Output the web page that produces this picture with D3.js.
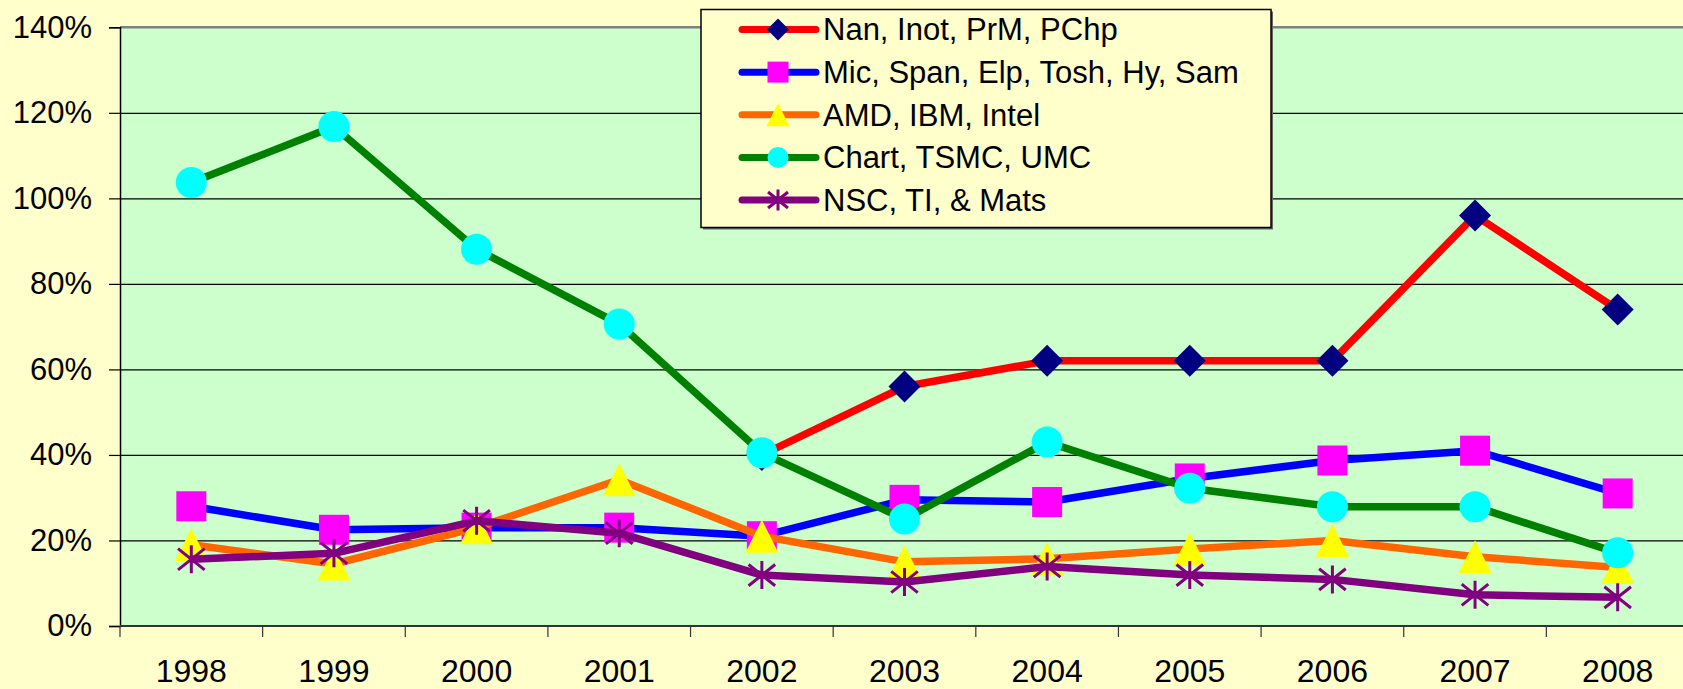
<!DOCTYPE html>
<html>
<head>
<meta charset="utf-8">
<script src="https://cdn.jsdelivr.net/npm/d3@7"></script>
<style>
  html, body { margin: 0; padding: 0; background: #ffffcc; }
  svg { display: block; font-family: Arial, "Liberation Sans", sans-serif; }
</style>
</head>
<body>
<svg class="canvas" width="1683" height="689"></svg>
<script>
const years = ["1998", "1999", "2000", "2001", "2002", "2003", "2004", "2005", "2006", "2007", "2008"];
const yTicks = [0, 0.2, 0.4, 0.6, 0.8, 1.0, 1.2, 1.4];

// percent values
const nanInot = [null, null, null, null, 40, 56, 62, 62, 62, 96, 74];
const micSpan = [28, 22.5, 23, 23, 21, 29.5, 29, 34.5, 38.7, 41, 31];
const amdIbm = [19, 14.5, 23, 34.2, 21, 15, 15.7, 18, 20, 16.2, 13.7];
const chartTsmc = [103.7, 116.8, 88.1, 70.6, 40.5, 25, 43, 32.2, 27.9, 27.9, 17.1];
const nscTi = [15.6, 17, 24.6, 21.7, 11.9, 10.3, 13.9, 11.9, 10.9, 7.3, 6.7];

const seriesNames = [
  "Nan, Inot, PrM, PChp",
  "Mic, Span, Elp, Tosh, Hy, Sam",
  "AMD, IBM, Intel",
  "Chart, TSMC, UMC",
  "NSC, TI, & Mats"
];

const series = [
  { name: seriesNames[0], values: nanInot, line: "#ff0000", fill: "#000080", marker: "diamond" },
  { name: seriesNames[1], values: micSpan, line: "#0000ff", fill: "#ff00ff", marker: "square" },
  { name: seriesNames[2], values: amdIbm, line: "#ff6600", fill: "#ffff00", marker: "triangle" },
  { name: seriesNames[3], values: chartTsmc, line: "#008000", fill: "#00ffff", marker: "circle" },
  { name: seriesNames[4], values: nscTi, line: "#800080", fill: "#800080", marker: "star" }
];

const svg = d3.select(".canvas");

let plotLeft = 120, plotRight = 1689, plotTop = 27.3, plotBottom = 626;

let xScale = d3.scaleBand().domain(years).range([plotLeft, plotRight]).padding(0);
let yScale = d3.scaleLinear().domain([0, 1.4]).range([plotBottom, plotTop]);
let cx = (year) => xScale(year) + xScale.bandwidth() / 2;

// plot area
svg.append("rect")
  .attr("x", plotLeft).attr("y", plotTop)
  .attr("width", plotRight - plotLeft).attr("height", plotBottom - plotTop)
  .attr("fill", "#ccffcc");

// grid lines
svg.append("g")
  .attr("transform", `translate(${plotLeft},0)`)
  .call(d3.axisLeft(yScale).tickValues(yTicks.slice(1, -1)).tickSize(-(plotRight - plotLeft)).tickFormat(""))
  .call((g) => g.select(".domain").remove())
  .call((g) => g.selectAll("line").attr("stroke", "#000").attr("stroke-width", 1.2));

svg.append("line")
  .attr("x1", plotLeft).attr("x2", plotRight)
  .attr("y1", yScale(1.4)).attr("y2", yScale(1.4))
  .attr("stroke", "#808080").attr("stroke-width", 2.5);

// y axis
svg.append("g")
  .attr("transform", `translate(${plotLeft},0)`)
  .call(d3.axisLeft(yScale).tickValues(yTicks).tickSize(11).tickPadding(17).tickFormat(d3.format(".0%")))
  .call((g) => g.select(".domain").attr("stroke", "#000").attr("stroke-width", 1.5))
  .call((g) => g.selectAll("line").attr("stroke", "#000").attr("stroke-width", 1.2))
  .call((g) => g.selectAll("text").style("font-size", "31px").attr("fill", "#000"));

// x axis labels
svg.append("g")
  .attr("transform", `translate(0,${plotBottom})`)
  .call(d3.axisBottom(xScale).tickSize(0).tickPadding(33))
  .call((g) => g.select(".domain").remove())
  .call((g) => g.selectAll("text").style("font-size", "32px").attr("fill", "#000"));

// x axis line and category boundary ticks
svg.append("line")
  .attr("x1", plotLeft).attr("x2", plotRight)
  .attr("y1", plotBottom).attr("y2", plotBottom)
  .attr("stroke", "#333").attr("stroke-width", 2);

svg.append("g")
  .selectAll("line")
  .data(years)
  .join("line")
  .attr("x1", (d) => xScale(d)).attr("x2", (d) => xScale(d))
  .attr("y1", plotBottom).attr("y2", plotBottom + 11)
  .attr("stroke", "#333").attr("stroke-width", 1.2);

let markerPath = (type, s) => {
  let h = s / 2;
  if (type === "diamond") return `M0,${-h}L${h},0L0,${h}L${-h},0Z`;
  if (type === "square") return `M${-h},${-h}H${h}V${h}H${-h}Z`;
  if (type === "triangle") return `M0,${-h}L${h},${h}L${-h},${h}Z`;
  if (type === "circle") return d3.symbol(d3.symbolCircle, Math.PI * h * h)();
  // star: vertical line plus an X
  let d = h * 0.95;
  return `M0,${-h}V${h}M${-d},${-d * 0.8}L${d},${d * 0.8}M${-d},${d * 0.8}L${d},${-d * 0.8}`;
};

let drawMarker = (sel, s, size) => {
  sel.append("path")
    .attr("d", markerPath(s.marker, size))
    .attr("fill", s.marker === "star" ? "none" : s.fill)
    .attr("stroke", s.marker === "star" ? s.fill : "none")
    .attr("stroke-width", s.marker === "star" ? 3 : 0);
};

let line = d3.line()
  .defined((d) => d.v !== null)
  .x((d) => cx(d.year))
  .y((d) => yScale(d.v / 100));

series.forEach((s) => {
  let pts = years.map((year, i) => ({ year: year, v: s.values[i] }));
  let g = svg.append("g");
  g.append("path")
    .datum(pts)
    .attr("d", line)
    .attr("fill", "none")
    .attr("stroke", s.line)
    .attr("stroke-width", 7.5)
    .attr("stroke-linejoin", "round");
  let size = { diamond: 32, square: 30, triangle: 33, circle: 31, star: 28 }[s.marker];
  g.selectAll("g.pt")
    .data(pts.filter((d) => d.v !== null))
    .join("g")
    .attr("class", "pt")
    .attr("transform", (d) => `translate(${cx(d.year)},${yScale(d.v / 100)})`)
    .each(function () {
      drawMarker(d3.select(this), s, size);
    });
});

// legend
let lx = 701, ly = 9.5, lw = 570, lh = 218;
svg.append("rect")
  .attr("x", lx + 2).attr("y", ly + 2)
  .attr("width", lw).attr("height", lh)
  .attr("fill", "#666");
svg.append("rect")
  .attr("x", lx).attr("y", ly)
  .attr("width", lw).attr("height", lh)
  .attr("fill", "#ffffcc")
  .attr("stroke", "#000").attr("stroke-width", 1.5);

let legendY = d3.scalePoint().domain(seriesNames).range([29.5, 200]);

series.forEach((s) => {
  let g = svg.append("g").attr("transform", `translate(0,${legendY(s.name)})`);
  g.append("line")
    .attr("x1", 742).attr("x2", 816)
    .attr("stroke", s.line).attr("stroke-width", 7)
    .attr("stroke-linecap", "round");
  let mg = g.append("g").attr("transform", "translate(778,0)");
  let size = { diamond: 22, square: 21, triangle: 23, circle: 21, star: 21 }[s.marker];
  drawMarker(mg, s, size);
  g.append("text")
    .attr("x", 823)
    .attr("dy", "0.35em")
    .style("font-size", "31px")
    .attr("fill", "#000")
    .text(s.name);
});
</script>
</body>
</html>
